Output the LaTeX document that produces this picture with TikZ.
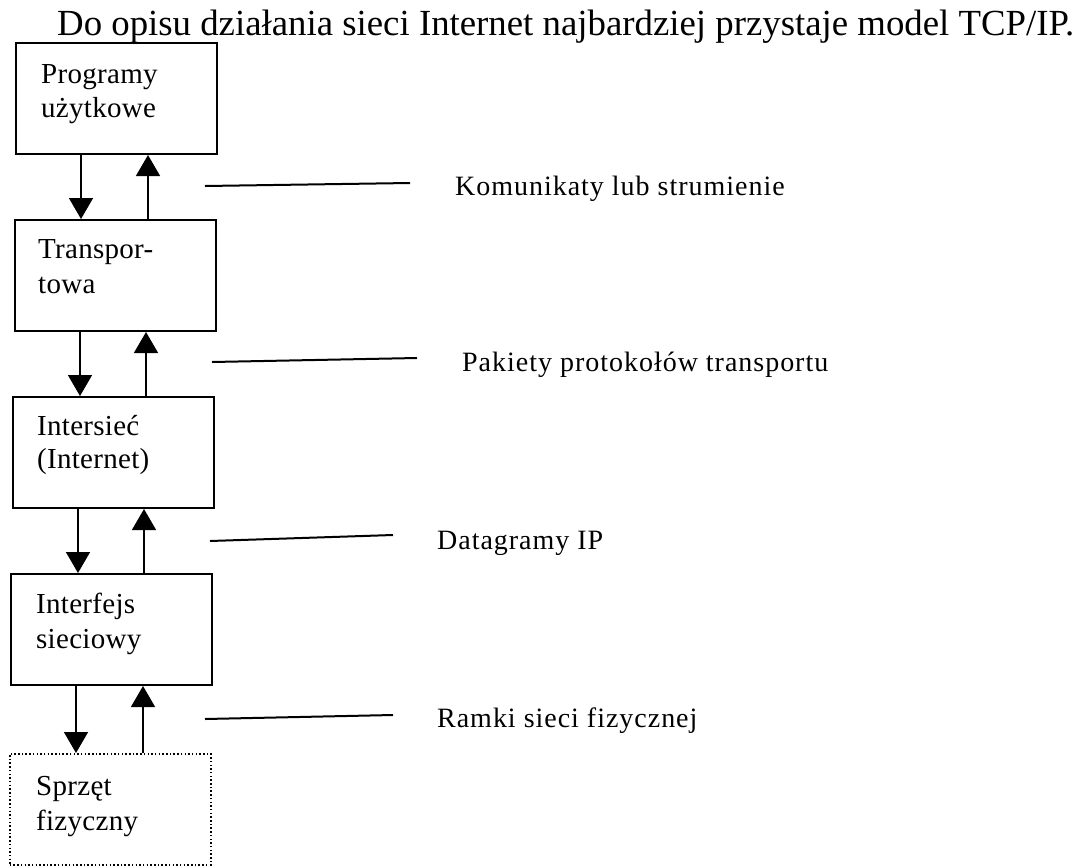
\documentclass[tikz,border=0pt]{standalone}
\usepackage{fontspec}
\setmainfont{Liberation Serif}
\newfontfamily\boxfont[LetterSpace=1]{Liberation Serif}
\newfontfamily\lblfont[LetterSpace=3.5]{Liberation Serif}
\usetikzlibrary{arrows.meta,calc}
\tikzset{
  layer/.style={draw=black, line width=2pt, rectangle, anchor=north west,
    minimum width=201pt, minimum height=111pt, inner sep=0pt},
  hwlayer/.style={layer, line width=1.5pt, dash pattern=on 1.5pt off 2.2pt},
  layertext/.style={anchor=base west, inner sep=0pt, font=\boxfont\fontsize{29}{34}\selectfont},
  unitlabel/.style={anchor=base west, inner sep=0pt, font=\lblfont\fontsize{28}{32}\selectfont},
  flow/.style={line width=1.5pt, -{Triangle[width=24pt,length=21pt]}},
  leader/.style={line width=2pt}
}
\begin{document}
\begin{tikzpicture}[x=1pt,y=-1pt]
  \useasboundingbox (0,0) rectangle (1086,865);

  % heading
  \node[anchor=base west, inner sep=0pt, font=\fontsize{36.8}{40}\selectfont] (title) at (57,35)
    {Do opisu działania sieci Internet najbardziej przystaje model TCP/IP.};

  % protocol layers
  \node[layer]   (b1) at (15,42)  {};
  \node[layer]   (b2) at (14,219) {};
  \node[layer]   (b3) at (12,396) {};
  \node[layer]   (b4) at (10,573) {};
  \node[hwlayer] (b5) at (9,753)  {};

  \node[layertext] (t1a) at ($(b1.north west)+(26,41)$) {Programy};
  \node[layertext] (t1b) at ($(b1.north west)+(26,75)$) {użytkowe};
  \node[layertext] (t2a) at ($(b2.north west)+(24,39)$) {Transpor-};
  \node[layertext] (t2b) at ($(b2.north west)+(24,74)$) {towa};
  \node[layertext] (t3a) at ($(b3.north west)+(25,39)$) {Intersieć};
  \node[layertext] (t3b) at ($(b3.north west)+(25,72)$) {(Internet)};
  \node[layertext] (t4a) at ($(b4.north west)+(26,40)$) {Interfejs};
  \node[layertext] (t4b) at ($(b4.north west)+(26,75)$) {sieciowy};
  \node[layertext] (t5a) at ($(b5.north west)+(27,42)$) {Sprzęt};
  \node[layertext] (t5b) at ($(b5.north west)+(27,77)$) {fizyczny};

  % data flow between adjacent layers (vertical shafts)
  \foreach \u/\l in {b1/b2, b2/b3, b3/b4, b4/b5}{
    \path ($(\u.south west)+(66,0)$) coordinate (dn)
          ($(\l.north west)+(134,0)$) coordinate (up);
    \draw[flow] (dn) -- (dn |- \l.north);
    \draw[flow] (up) -- (up |- \u.south);
  }

  % units exchanged between layers
  \coordinate (l1a) at (205,186); \coordinate (l1b) at (410,183);
  \coordinate (l2a) at (212,362); \coordinate (l2b) at (417,358);
  \coordinate (l3a) at (210,541); \coordinate (l3b) at (393,535);
  \coordinate (l4a) at (205,719); \coordinate (l4b) at (393,715);
  \draw[leader] (l1a) -- (l1b);
  \draw[leader] (l2a) -- (l2b);
  \draw[leader] (l3a) -- (l3b);
  \draw[leader] (l4a) -- (l4b);

  \node[unitlabel] (u1) at (455,195) {Komunikaty lub strumienie};
  \node[unitlabel] (u2) at (462,371) {Pakiety protokołów transportu};
  \node[unitlabel] (u3) at (437,549) {Datagramy IP};
  \node[unitlabel] (u4) at (437,727) {Ramki sieci fizycznej};
\end{tikzpicture}
\end{document}
